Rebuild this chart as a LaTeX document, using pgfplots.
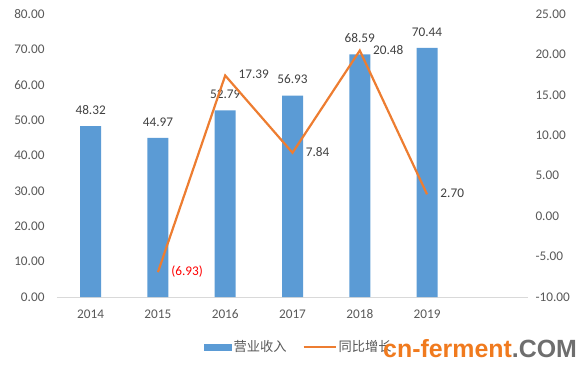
\documentclass[border=0pt]{standalone}
\usepackage{pgfplots}
\pgfplotsset{compat=1.18}
\usepackage{fontspec}
\setmainfont{Carlito}
\newfontfamily\cjk{Noto Sans CJK SC}
\newfontfamily\wm{Liberation Sans}
\definecolor{barblue}{HTML}{5B9BD5}
\definecolor{lineorange}{HTML}{ED7D31}
\definecolor{ticktxt}{HTML}{595959}
\definecolor{lbltxt}{HTML}{404040}
\definecolor{wmorange}{HTML}{F07A1E}
\definecolor{wmgray}{HTML}{6E6E6E}
\tikzset{twodec/.style={/pgf/number format/fixed, /pgf/number format/fixed zerofill, /pgf/number format/precision=2, /pgf/number format/assume math mode=true}}
\begin{document}
\begin{tikzpicture}[x=1bp,y=1bp]
\path[use as bounding box] (-57,-72) rectangle (530,297);
\begin{axis}[
  at={(0,0)}, anchor=south west, scale only axis,
  width=471bp, height=283bp,
  xmin=-0.5, xmax=6.5, ymin=0, ymax=80,
  xtick={0,1,2,3,4,5}, xticklabels={2014,2015,2016,2017,2018,2019},
  ytick={0,10,...,80},
  axis x line*=bottom, axis y line*=left,
  x axis line style={draw=black!15, -},
  y axis line style={draw=none},
  major tick length=0,
  /tikz/twodec,
  tick label style={font=\fontsize{13.3}{16}\selectfont, text=ticktxt},
  yticklabel style={xshift=-9bp},
  xticklabel style={yshift=-9bp},
  clip=false,
  legend style={at={(0.513,-0.177)}, anchor=center, draw=none, fill=none,
    legend columns=2, font=\cjk\fontsize{13.3}{16}\selectfont, text=ticktxt,
    /tikz/every even column/.append style={column sep=14bp}},
]
\addplot[ybar, bar width=21bp, fill=barblue, draw=none,
  legend image code/.code={\fill[barblue] (0bp,-3.5bp) rectangle (28bp,3.5bp);},
  nodes near coords,
  nodes near coords style={font=\fontsize{13.3}{16}\selectfont, text=lbltxt, /tikz/twodec, yshift=8bp}]
  coordinates {(0,48.32) (1,44.97) (2,52.79) (3,56.93) (4,68.59) (5,70.44)};
\addlegendentry{营业收入}
\addlegendimage{legend image code/.code={\draw[lineorange, line width=2.2bp] (0bp,0bp) -- (32bp,0bp);}}
\addlegendentry{同比增长}
\end{axis}
\begin{axis}[
  at={(0,0)}, anchor=south west, scale only axis,
  width=471bp, height=283bp,
  xmin=-0.5, xmax=6.5, ymin=-10, ymax=25,
  ytick={-10,-5,...,25},
  axis x line=none, axis y line*=right,
  y axis line style={draw=none},
  major tick length=0,
  /tikz/twodec,
  tick label style={font=\fontsize{13.3}{16}\selectfont, text=ticktxt},
  yticklabel style={xshift=4bp},
  clip=false,
]
\addplot[lineorange, line width=2.2bp, no markers,
  point meta=explicit symbolic,
  nodes near coords,
  nodes near coords style={font=\fontsize{13.3}{16}\selectfont, text=lbltxt, anchor=west, xshift=9bp, yshift=1bp}]
  coordinates {(1,-6.93) [\textcolor{red}{(6.93)}] (2,17.39) [17.39] (3,7.84) [7.84] (4,20.48) [20.48] (5,2.70) [2.70]};
\end{axis}
\node[anchor=base west, inner sep=0, font=\wm\bfseries\fontsize{25}{28}\selectfont] at (326,-60)
  {\textcolor{wmorange}{cn-ferment}\textcolor{wmgray}{.COM}};
\end{tikzpicture}
\end{document}
